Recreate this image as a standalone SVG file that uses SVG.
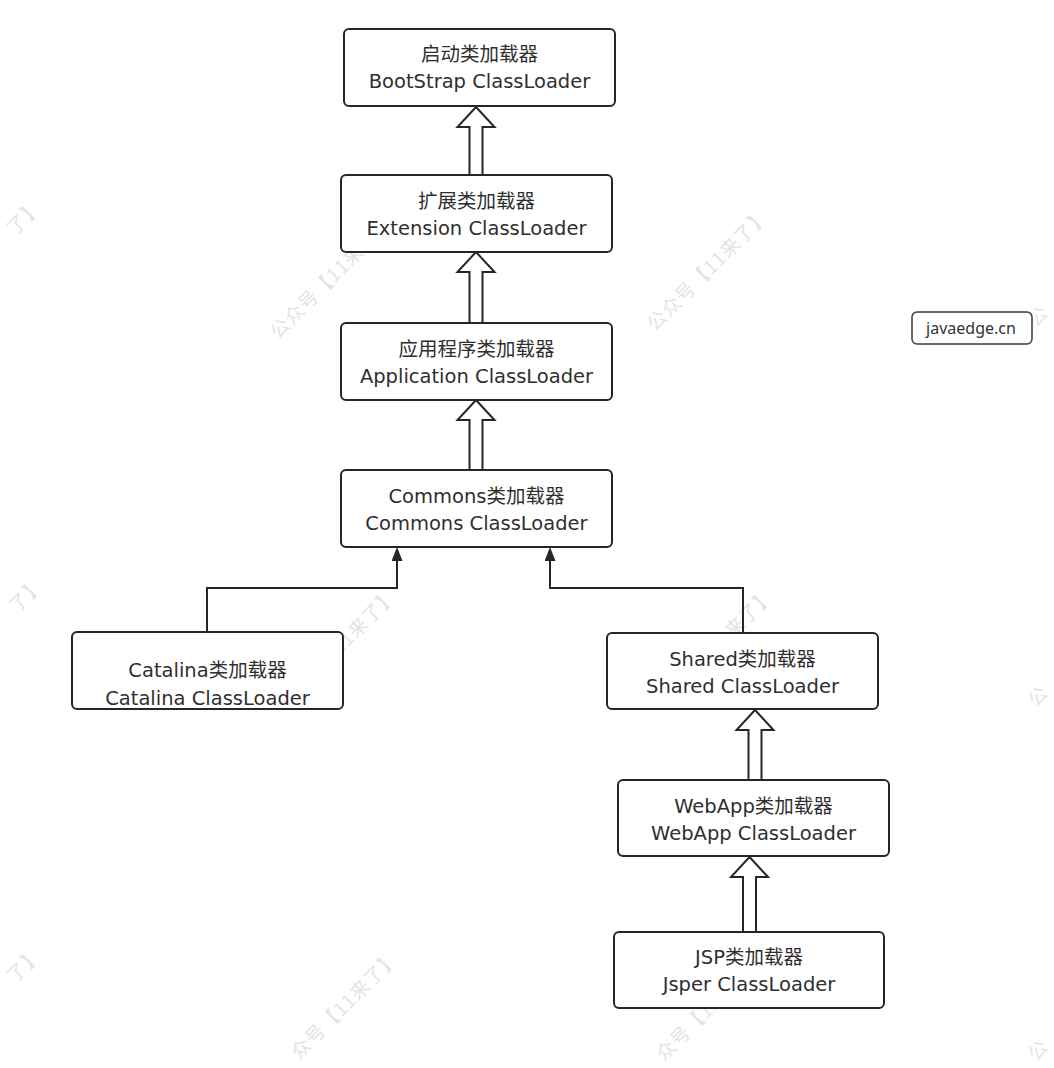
<svg xmlns="http://www.w3.org/2000/svg" width="1054" height="1068" viewBox="0 0 1054 1068">
<style>
.bg{fill:#ffffff}
.box{fill:#ffffff;stroke:#262626;stroke-width:2}
.t{font-family:"DejaVu Sans","Noto Sans CJK SC",sans-serif;font-size:19.5px;fill:#2f2f2f;text-anchor:middle}
.wm{font-family:"Noto Sans CJK SC",sans-serif;font-size:19px;fill:#e4e4e4;letter-spacing:1px}
.hollow{fill:#ffffff;stroke:#262626;stroke-width:2;stroke-linejoin:miter}
.line{fill:none;stroke:#262626;stroke-width:2}
.tag{fill:#ffffff;stroke:#3a3d42;stroke-width:1.5}
.tagt{font-family:"Noto Sans","Open Sans",sans-serif;font-size:16px;fill:#333333;text-anchor:middle}
</style>
<defs>
<marker id="fa" viewBox="0 0 14 11" markerWidth="14" markerHeight="11" refX="10" refY="5.5" orient="auto" markerUnits="userSpaceOnUse">
<path d="M0,0 L14,5.5 L0,11 z" fill="#262626"/>
</marker>
</defs>
<rect class="bg" x="0" y="0" width="1054" height="1068"/>
<g id="watermarks">
<text class="wm" transform="translate(15,236) rotate(-45)">了】</text>
<text class="wm" transform="translate(278,340) rotate(-45)">公众号【11来了】</text>
<text class="wm" transform="translate(655,332) rotate(-45)">公众号【11来了】</text>
<text class="wm" transform="translate(1036,328) rotate(-45)">公</text>
<text class="wm" transform="translate(17,614) rotate(-45)">了】</text>
<text class="wm" transform="translate(283,712) rotate(-45)">公众号【11来了】</text>
<text class="wm" transform="translate(660,712) rotate(-45)">公众号【11来了】</text>
<text class="wm" transform="translate(1036,708) rotate(-45)">公</text>
<text class="wm" transform="translate(15,984) rotate(-45)">了】</text>
<text class="wm" transform="translate(299,1060) rotate(-45)">众号【11来了】</text>
<text class="wm" transform="translate(664,1062) rotate(-45)">众号【11来了】</text>
<text class="wm" transform="translate(1036,1062) rotate(-45)">公</text>
</g>
<g id="connectors">
<polygon class="hollow" points="476,107 494.5,127 482.5,127 482.5,175 469.5,175 469.5,127 457.5,127"/>
<polygon class="hollow" points="476,252 494.5,272 482.5,272 482.5,323 469.5,323 469.5,272 457.5,272"/>
<polygon class="hollow" points="476,400 494.5,420 482.5,420 482.5,470 469.5,470 469.5,420 457.5,420"/>
<polygon class="hollow" points="755,710 773.5,730 761.5,730 761.5,780 748.5,780 748.5,730 736.5,730"/>
<polygon class="hollow" points="749.5,857 768,877 756,877 756,932 743,932 743,877 731,877"/>
<path class="line" d="M207,632 V588 H397 V551" marker-end="url(#fa)"/>
<path class="line" d="M743,633 V588 H550 V551" marker-end="url(#fa)"/>
</g>
<g id="bootstrap">
<rect class="box" x="344" y="29" width="271" height="77" rx="5"/>
<text class="t" x="479.5" y="61">启动类加载器</text>
<text class="t" x="479.5" y="88">BootStrap ClassLoader</text>
</g>
<g id="extension">
<rect class="box" x="341" y="175" width="271" height="77" rx="5"/>
<text class="t" x="476.5" y="208">扩展类加载器</text>
<text class="t" x="476.5" y="235">Extension ClassLoader</text>
</g>
<g id="application">
<rect class="box" x="341" y="323" width="271" height="77" rx="5"/>
<text class="t" x="476.5" y="356">应用程序类加载器</text>
<text class="t" x="476.5" y="383">Application ClassLoader</text>
</g>
<g id="commons">
<rect class="box" x="341" y="470" width="271" height="77" rx="5"/>
<text class="t" x="476.5" y="503">Commons类加载器</text>
<text class="t" x="476.5" y="530">Commons ClassLoader</text>
</g>
<g id="catalina">
<rect class="box" x="72" y="632" width="271" height="77" rx="5"/>
<text class="t" x="207.5" y="677">Catalina类加载器</text>
<text class="t" x="207.5" y="705">Catalina ClassLoader</text>
</g>
<g id="shared">
<rect class="box" x="607" y="633" width="271" height="76" rx="5"/>
<text class="t" x="742.5" y="666">Shared类加载器</text>
<text class="t" x="742.5" y="693">Shared ClassLoader</text>
</g>
<g id="webapp">
<rect class="box" x="618" y="780" width="271" height="76" rx="5"/>
<text class="t" x="753.5" y="813">WebApp类加载器</text>
<text class="t" x="753.5" y="840">WebApp ClassLoader</text>
</g>
<g id="jsp">
<rect class="box" x="614" y="932" width="270" height="76" rx="5"/>
<text class="t" x="749" y="964">JSP类加载器</text>
<text class="t" x="749" y="991">Jsper ClassLoader</text>
</g>
<g id="javaedge">
<rect class="tag" x="912" y="312" width="120" height="32" rx="5"/>
<text class="tagt" x="971" y="334">javaedge.cn</text>
</g>
</svg>
